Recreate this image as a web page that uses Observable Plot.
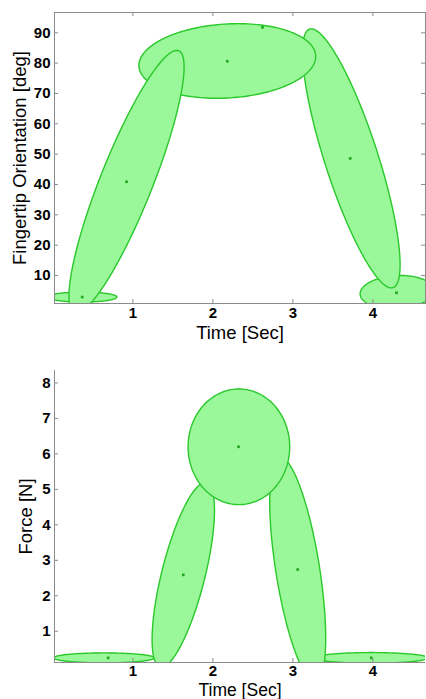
<!DOCTYPE html>
<html>
<head>
<meta charset="utf-8">
<script src="https://cdn.jsdelivr.net/npm/d3@7"></script>
<script src="https://cdn.jsdelivr.net/npm/@observablehq/plot@0.6"></script>
<style>
  html, body { margin: 0; padding: 0; background: #fff; }
  svg { display: block; font-family: "Liberation Sans", Arial, sans-serif; }
</style>
</head>
<body>
<div id="top"></div>
<div id="bottom"></div>
<script>
// ---- Top panel: fingertip orientation (Gaussian components), in drawing order ----
const topCx = [4.30, 3.73, 2.18, 0.37, 0.92];
const topCy = [4.5, 48.6, 80.7, 2.9, 40.9];
const topWx = [0.46, 0.61, 1.105, 0.43, 0.72];
const topWy = [5.5, 42.7, 12.3, 1.65, 43.3];
const topR  = [0.1, -0.82, 0.12, 0.0, 0.873];
const topMarkX = [0.366, 0.92, 2.18, 2.62, 3.716, 4.295];
const topMarkY = [2.9, 40.9, 80.6, 91.8, 48.6, 4.3];
const topYTicks = [10, 20, 30, 40, 50, 60, 70, 80, 90];

// ---- Bottom panel: force, in drawing order ----
const botCx = [0.64, 3.98, 1.63, 3.06, 2.325];
const botCy = [0.25, 0.25, 2.59, 2.74, 6.2];
const botWx = [0.63, 0.71, 0.39, 0.35, 0.635];
const botWy = [0.14, 0.15, 2.6, 3.16, 1.63];
const botR  = [0.0, 0.0, 0.70, -0.61, 0.0];
const botMarkX = [0.69, 1.63, 2.32, 3.06, 3.98];
const botMarkY = [0.25, 2.59, 6.2, 2.74, 0.25];
const botYTicks = [1, 2, 3, 4, 5, 6, 7, 8];

const xTicks = [1, 2, 3, 4];
const xDomain = [0.02, 4.6575];
const topYDomain = [0.77, 96.68];
const botYDomain = [0.12, 8.35];

const FILL = "#9af89a";
const EDGE = "#2ac82a";
const MARK = "#1fa81f";
const AXIS = "#8a8a8a";
const TICK = 4;

function outline(cx, cy, wx, wy, r) {
  const pts = [];
  const n = 160;
  for (let e = 0; e < cx.length; e++) {
    const s = Math.sqrt(1 - r[e] * r[e]);
    for (let i = 0; i < n; i++) {
      const t = (2 * Math.PI * i) / n;
      pts.push({
        id: e,
        x: cx[e] + wx[e] * Math.cos(t),
        y: cy[e] + wy[e] * (r[e] * Math.cos(t) + s * Math.sin(t))
      });
    }
  }
  return pts;
}

function ellipseMarks(cx, cy, wx, wy, r) {
  const pts = outline(cx, cy, wx, wy, r);
  return cx.map((_, e) =>
    Plot.line(pts.filter(p => p.id === e), {
      x: "x", y: "y", curve: "linear-closed",
      fill: FILL, stroke: EDGE, strokeWidth: 1.4, clip: true
    })
  );
}

const tickFont = { fontSize: 15, fontWeight: "bold", fill: "black", tickSize: 0, label: null };

function innerTicks(yTicks, pw, ph, withTopRight) {
  const m = [
    Plot.ruleY(yTicks, { y: d => d, insetRight: pw - TICK, stroke: AXIS }),
    Plot.ruleX(xTicks, { x: d => d, insetTop: ph - TICK, stroke: AXIS })
  ];
  if (withTopRight) {
    m.push(Plot.ruleY(yTicks, { y: d => d, insetLeft: pw - TICK, stroke: AXIS }));
    m.push(Plot.ruleX(xTicks, { x: d => d, insetBottom: ph - TICK, stroke: AXIS }));
  }
  return m;
}

const W = 426;
const topPlot = Plot.plot({
  width: W, height: 350,
  marginLeft: 54, marginRight: 1, marginTop: 12, marginBottom: 47,
  x: { domain: xDomain },
  y: { domain: topYDomain },
  marks: [
    ...ellipseMarks(topCx, topCy, topWx, topWy, topR),
    Plot.dot(topMarkX.map((x, i) => ({ x, y: topMarkY[i] })), {
      x: "x", y: "y", symbol: "square", r: 1.5, fill: MARK, stroke: null
    }),
    ...innerTicks(topYTicks, W - 55, 291, true),
    Plot.frame({ stroke: AXIS }),
    Plot.axisX(xTicks, { anchor: "bottom", tickPadding: 4, ...tickFont }),
    Plot.axisY(topYTicks, { anchor: "left", tickPadding: 4, ...tickFont }),
    Plot.text(["Time [Sec]"], { frameAnchor: "bottom", dy: 35, lineAnchor: "bottom", fontSize: 18.5, fill: "black" }),
    Plot.text(["Fingertip Orientation [deg]"], { frameAnchor: "left", dx: -34, rotate: -90, textAnchor: "middle", fontSize: 18.5, fill: "black" })
  ]
});

const botPlot = Plot.plot({
  width: W, height: 349,
  marginLeft: 54, marginRight: 1, marginTop: 20, marginBottom: 37,
  x: { domain: xDomain },
  y: { domain: botYDomain },
  marks: [
    ...ellipseMarks(botCx, botCy, botWx, botWy, botR),
    Plot.dot(botMarkX.map((x, i) => ({ x, y: botMarkY[i] })), {
      x: "x", y: "y", symbol: "square", r: 1.5, fill: MARK, stroke: null
    }),
    ...innerTicks(botYTicks, W - 55, 292, false),
    Plot.ruleX([xDomain[0]], { x: d => d, stroke: AXIS }),
    Plot.ruleY([botYDomain[0]], { y: d => d, stroke: AXIS }),
    Plot.axisX(xTicks, { anchor: "bottom", tickPadding: 3, ...tickFont }),
    Plot.axisY(botYTicks, { anchor: "left", tickPadding: 4, ...tickFont }),
    Plot.text(["Time [Sec]"], { frameAnchor: "bottom", dy: 33, lineAnchor: "bottom", fontSize: 17.5, fill: "black" }),
    Plot.text(["Force [N]"], { frameAnchor: "left", dx: -28, rotate: -90, textAnchor: "middle", fontSize: 18.5, fill: "black" })
  ]
});

document.getElementById("top").appendChild(topPlot);
document.getElementById("bottom").appendChild(botPlot);
</script>
</body>
</html>
